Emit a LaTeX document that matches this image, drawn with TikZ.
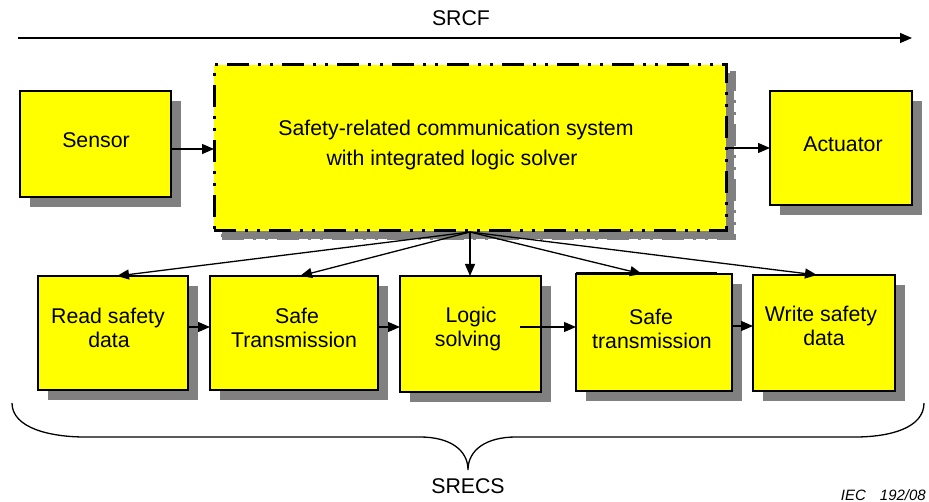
\documentclass[tikz,border=0pt]{standalone}
\usepackage{fontspec}
\setmainfont{Liberation Sans}
\usetikzlibrary{arrows.meta,shadows}
\definecolor{boxyellow}{RGB}{255,255,0}
\definecolor{shadowgray}{RGB}{128,128,128}
\tikzset{
  stage/.style={draw=black, line width=1.4, fill=boxyellow, inner sep=0pt, outer sep=0pt,
    drop shadow={shadow xshift=10pt, shadow yshift=-10pt, fill=shadowgray, opacity=1}},
  sysdash/.style={dash pattern=on 22pt off 9pt on 3pt off 9pt on 3pt off 9pt},
  sysbox/.style={draw=black, line width=3, sysdash, fill=boxyellow, inner sep=0pt, outer sep=0pt,
    drop shadow={shadow xshift=8pt, shadow yshift=-8pt, fill=shadowgray, draw=shadowgray,
      line width=3, sysdash, opacity=1}},
  lbl/.style={anchor=base, inner sep=0pt, font=\fontsize{21.3}{24}\selectfont},
  conn/.style={draw=black, line width=1.3, -{Triangle[length=12pt,width=10pt]}},
  brace/.style={draw=black, line width=1.3}
}
\begin{document}
\begin{tikzpicture}[x=1pt,y=-1pt]
\useasboundingbox (0,0) rectangle (929,502);

% upper row
\node[stage, minimum width=151, minimum height=106] (sensor) at (95.5,144) {};
\node[stage, minimum width=142, minimum height=114] (act) at (841,148) {};
\node[sysbox, minimum width=512, minimum height=166] (sys) at (470,148) {};

% lower row
\node[stage, minimum width=150, minimum height=114] (read) at (113,333) {};
\node[stage, minimum width=168, minimum height=114] (safeA) at (294,333) {};
\node[stage, minimum width=141, minimum height=116] (logic) at (470.5,334) {};
\node[stage, minimum width=156, minimum height=117] (safeB) at (654,332.5) {};
\draw[line width=1] (576,272.6) -- (717,272.6);
\node[stage, minimum width=142, minimum height=116] (write) at (824,333) {};

% box texts
\node[lbl] (sensorT) at (96,148) {Sensor};
\node[lbl] (actT) at (843,152) {Actuator};
\node[lbl] (sysT1) at (456,136) {Safety-related communication system};
\node[lbl] (sysT2) at (452,166) {with integrated logic solver};
\node[lbl] (readT1) at (108,324) {Read safety};
\node[lbl] (readT2) at (109,348) {data};
\node[lbl] (safeAT1) at (297,324) {Safe};
\node[lbl] (safeAT2) at (294,348) {Transmission};
\node[lbl] (logicT1) at (471,323) {Logic};
\node[lbl] (logicT2) at (468,347) {solving};
\node[lbl] (safeBT1) at (651,325) {Safe};
\node[lbl] (safeBT2) at (652,349) {transmission};
\node[lbl] (writeT1) at (821,322) {Write safety};
\node[lbl] (writeT2) at (824,346) {data};

% function arrow
\coordinate (srcfL) at (18,38);
\coordinate (srcfR) at (912,38);
\node[lbl] (srcf) at (461,26) {SRCF};
\draw[conn] (srcfL) -- (srcfR);

% connectors of the upper row
\coordinate (rowtop) at (0,149);
\draw[conn] (sensor.east |- rowtop) -- (sys.west |- rowtop);
\draw[conn] (sys.east) -- (act.west);

% fan from the system box to the subsystems
\coordinate (fan) at (470,232);
\draw[conn] (fan) -- ([xshift=4pt]read.north);
\draw[conn] (fan) -- ([xshift=6pt]safeA.north);
\draw[conn] (fan) -- (logic.north -| fan);
\draw[conn] (fan) -- ([xshift=-12pt]safeB.north);
\draw[conn] (fan) -- ([xshift=-7pt]write.north);

% chain of the lower row
\coordinate (rowlow) at (0,327);
\coordinate (rowlowB) at (0,326);
\coordinate (logicOut) at (520,327);
\draw[conn] (read.east |- rowlow) -- (safeA.west |- rowlow);
\draw[conn] (safeA.east |- rowlow) -- (logic.west |- rowlow);
\draw[conn] (logicOut) -- (safeB.west |- rowlow);
\draw[conn] (safeB.east |- rowlowB) -- (write.west |- rowlowB);

% brace spanning the subsystems
\draw[brace] (12,403) .. controls (12,428) and (50,437) .. (85,437)
  -- (420,437) .. controls (450,437) and (468,450) .. (468,470)
  .. controls (468,450) and (486,437) .. (516,437)
  -- (855,437) .. controls (890,437) and (924,428) .. (924,403);
\node[lbl] (srecs) at (468,493) {SRECS};

\node[anchor=base east, inner sep=0pt, font=\fontsize{15}{18}\selectfont\itshape] (ref) at (926,500) {IEC\hspace{14pt}192/08};
\end{tikzpicture}
\end{document}
